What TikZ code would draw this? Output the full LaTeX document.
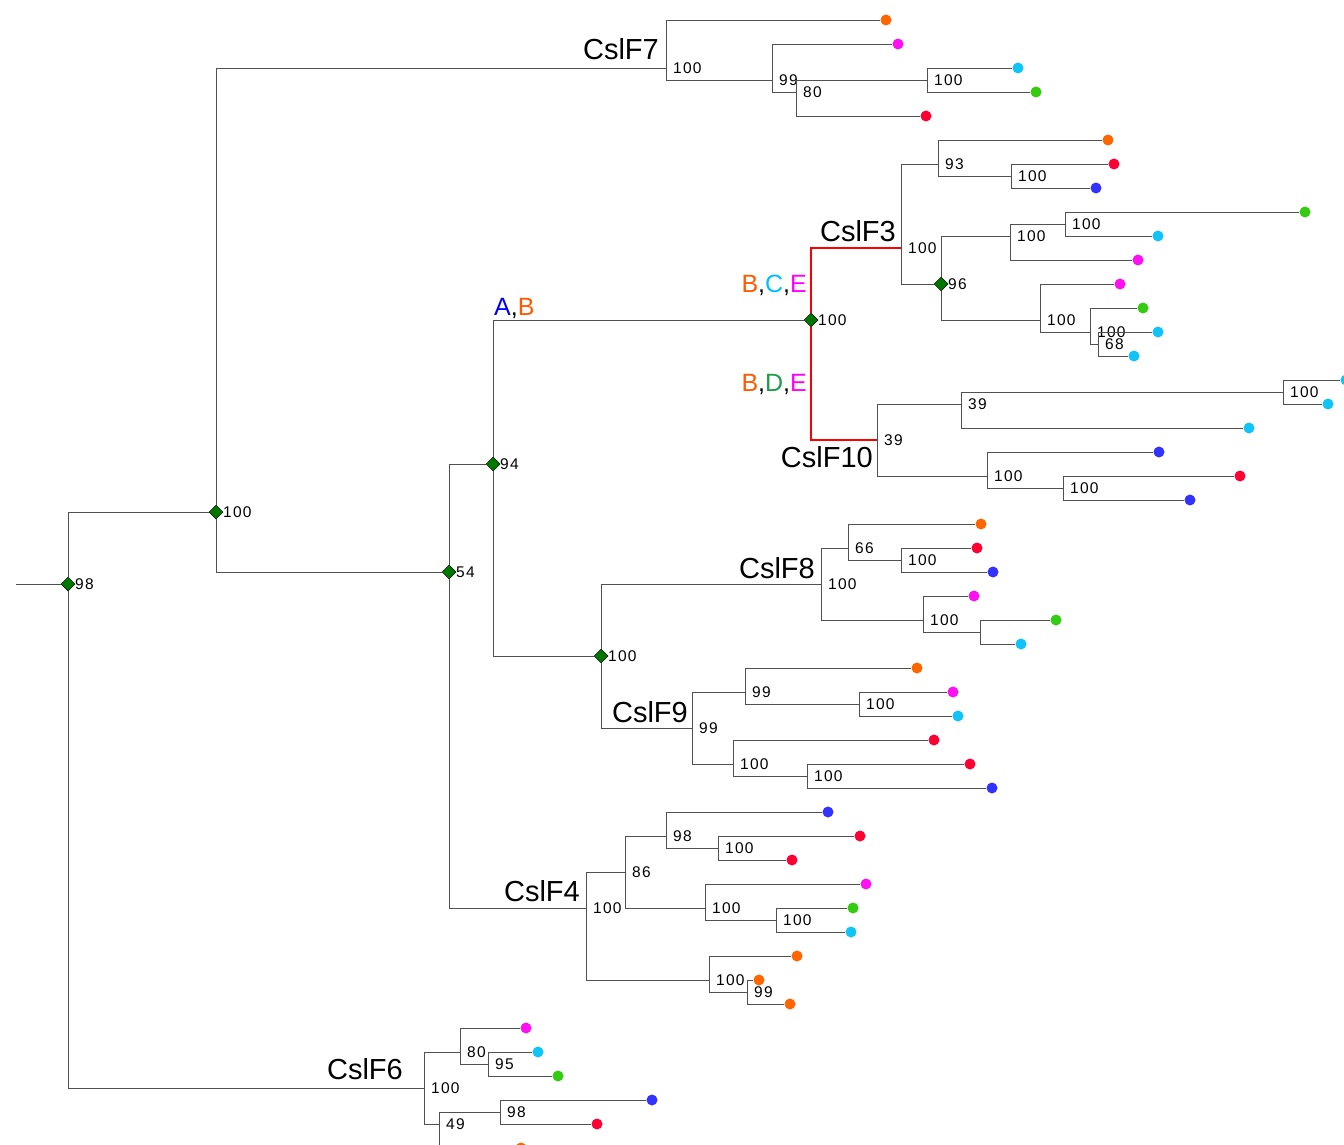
\documentclass[tikz,border=0pt]{standalone}
\usepackage{fontspec}
\setmainfont{Liberation Sans}
\newfontfamily\numfont[LetterSpace=8]{Liberation Sans}
\usetikzlibrary{shapes.geometric}
\definecolor{linegray}{HTML}{505050}
\definecolor{orng}{HTML}{FF6600}
\definecolor{mag}{HTML}{FF10F0}
\definecolor{cyn}{HTML}{10C4F8}
\definecolor{grn}{HTML}{33CC11}
\definecolor{rd}{HTML}{FF0033}
\definecolor{blu}{HTML}{3333FF}
\definecolor{diagreen}{HTML}{007800}
\definecolor{cA}{HTML}{0000FF}
\definecolor{cB}{HTML}{FF5A00}
\definecolor{cC}{HTML}{00BFFF}
\definecolor{cD}{HTML}{1E9E4A}
\definecolor{cE}{HTML}{FF00FF}
\newcommand\inode[4]{\coordinate (#1) at (#2,#3); \node[bs] (#1-l) at ([xshift=7pt]#1) {#4};}
\newcommand\dnode[4]{\node[dia] (#1) at (#2,#3) {}; \node[bs] (#1-l) at ([xshift=7pt]#1) {#4};}
\newcommand\lf[4]{\node[leaf=#4] (#1) at (#2,#3) {};}
\begin{document}
\begin{tikzpicture}[x=1pt,y=-1pt,
  br/.style={draw=linegray, line width=0.9pt},
  redbr/.style={draw=red, line width=2.4pt},
  leaf/.style={circle, fill=#1, inner sep=0pt, minimum size=11pt},
  dia/.style={diamond, draw=black, line width=0.5pt, fill=diagreen, inner sep=0pt, minimum size=14pt},
  bs/.style={font=\numfont\fontsize{15.5}{18}\selectfont, inner sep=0pt, anchor=west},
  clade/.style={font=\fontsize{29}{34}\selectfont, inner sep=0pt, anchor=base east},
  evt/.style={font=\fontsize{25}{30}\selectfont, inner sep=0pt}
]
\path[use as bounding box] (0,0) rectangle (1344,1145);

% ---- leaves
\lf{L1}{886}{20}{orng}
\lf{L2}{898}{44}{mag}
\lf{L3}{1018}{68}{cyn}
\lf{L4}{1036}{92}{grn}
\lf{L5}{926}{116}{rd}
\lf{L6}{1108}{140}{orng}
\lf{L7}{1114}{164}{rd}
\lf{L8}{1096}{188}{blu}
\lf{L9}{1305}{212}{grn}
\lf{L10}{1158}{236}{cyn}
\lf{L11}{1138}{260}{mag}
\lf{L12}{1120}{284}{mag}
\lf{L13}{1143}{308}{grn}
\lf{L14}{1158}{332}{cyn}
\lf{L15}{1134}{356}{cyn}
\lf{L16}{1346}{380}{cyn}
\lf{L17}{1328}{404}{cyn}
\lf{L18}{1249}{428}{cyn}
\lf{L19}{1159}{452}{blu}
\lf{L20}{1240}{476}{rd}
\lf{L21}{1190}{500}{blu}
\lf{L22}{981}{524}{orng}
\lf{L23}{977}{548}{rd}
\lf{L24}{993}{572}{blu}
\lf{L25}{974}{596}{mag}
\lf{L26}{1056}{620}{grn}
\lf{L27}{1021}{644}{cyn}
\lf{L28}{917}{668}{orng}
\lf{L29}{953}{692}{mag}
\lf{L30}{958}{716}{cyn}
\lf{L31}{934}{740}{rd}
\lf{L32}{970}{764}{rd}
\lf{L33}{992}{788}{blu}
\lf{L34}{828}{812}{blu}
\lf{L35}{860}{836}{rd}
\lf{L36}{792}{860}{rd}
\lf{L37}{866}{884}{mag}
\lf{L38}{853}{908}{grn}
\lf{L39}{851}{932}{cyn}
\lf{L40}{797}{956}{orng}
\lf{L41}{759}{980}{orng}
\lf{L42}{790}{1004}{orng}
\lf{L43}{526}{1028}{mag}
\lf{L44}{538}{1052}{cyn}
\lf{L45}{558}{1076}{grn}
\lf{L46}{652}{1100}{blu}
\lf{L47}{597}{1124}{rd}
\lf{L48}{521}{1148}{orng}

% ---- internal nodes
\coordinate (r0) at (16,584);
\dnode{r}{68}{584}{98}
\dnode{a}{216}{512}{100}
\dnode{b}{449}{572}{54}
\dnode{c}{493}{464}{94}
\dnode{d}{811}{320}{100}
\dnode{e}{601}{656}{100}
\inode{n7a}{666}{68}{100}
\inode{n7b}{772}{80}{99}
\inode{n7c}{796}{92}{80}
\inode{n7d}{927}{80}{100}
\inode{f3}{901}{248}{100}
\inode{g1}{938}{164}{93}
\inode{g3}{1011}{176}{100}
\dnode{g2}{941}{284}{96}
\inode{g4}{1010}{236}{100}
\inode{g6}{1065}{224}{100}
\inode{g5}{1040}{320}{100}
\inode{g7}{1090}{332}{100}
\inode{g8}{1098}{344}{68}
\inode{f10}{877}{440}{39}
\inode{h1}{961}{404}{39}
\inode{h3}{1283}{392}{100}
\inode{h2}{987}{476}{100}
\inode{h4}{1063}{488}{100}
\inode{f8}{821}{584}{100}
\inode{i1}{848}{548}{66}
\inode{i3}{901}{560}{100}
\inode{i2}{923}{620}{100}
\coordinate (i4) at (980,632);
\inode{f9}{692}{728}{99}
\inode{j1}{745}{692}{99}
\inode{j3}{859}{704}{100}
\inode{j2}{733}{764}{100}
\inode{j4}{807}{776}{100}
\inode{f4}{586}{908}{100}
\inode{k1}{625}{872}{86}
\inode{k3}{666}{836}{98}
\inode{k5}{718}{848}{100}
\inode{k4}{705}{908}{100}
\inode{k6}{776}{920}{100}
\inode{k2}{709}{980}{100}
\inode{k7}{747}{992}{99}
\inode{f6}{424}{1088}{100}
\inode{m1}{460}{1052}{80}
\inode{m4}{488}{1064}{95}
\inode{m2}{439}{1124}{49}
\inode{m3}{500}{1112}{98}

% ---- branches
\draw[br] (r0) -- (r);
\draw[br] (r) |- (a) (r) |- (f6);
\draw[br] (a) |- (n7a) (a) |- (b);
\draw[br] (n7a) |- (L1) (n7a) |- (n7b);
\draw[br] (n7b) |- (L2) (n7b) |- (n7c);
\draw[br] (n7c) |- (n7d) (n7c) |- (L5);
\draw[br] (n7d) |- (L3) (n7d) |- (L4);
\draw[br] (b) |- (c) (b) |- (f4);
\draw[br] (c) |- (d) (c) |- (e);
\draw[redbr] (d) |- (f3) (d) |- (f10);
\draw[br] (f3) |- (g1) (f3) |- (g2);
\draw[br] (g1) |- (L6) (g1) |- (g3);
\draw[br] (g3) |- (L7) (g3) |- (L8);
\draw[br] (g2) |- (g4) (g2) |- (g5);
\draw[br] (g4) |- (g6) (g4) |- (L11);
\draw[br] (g6) |- (L9) (g6) |- (L10);
\draw[br] (g5) |- (L12) (g5) |- (g7);
\draw[br] (g7) |- (L13) (g7) |- (g8);
\draw[br] (g8) |- (L14) (g8) |- (L15);
\draw[br] (f10) |- (h1) (f10) |- (h2);
\draw[br] (h1) |- (h3) (h1) |- (L18);
\draw[br] (h3) |- (L16) (h3) |- (L17);
\draw[br] (h2) |- (L19) (h2) |- (h4);
\draw[br] (h4) |- (L20) (h4) |- (L21);
\draw[br] (e) |- (f8) (e) |- (f9);
\draw[br] (f8) |- (i1) (f8) |- (i2);
\draw[br] (i1) |- (L22) (i1) |- (i3);
\draw[br] (i3) |- (L23) (i3) |- (L24);
\draw[br] (i2) |- (L25) (i2) |- (i4);
\draw[br] (i4) |- (L26) (i4) |- (L27);
\draw[br] (f9) |- (j1) (f9) |- (j2);
\draw[br] (j1) |- (L28) (j1) |- (j3);
\draw[br] (j3) |- (L29) (j3) |- (L30);
\draw[br] (j2) |- (L31) (j2) |- (j4);
\draw[br] (j4) |- (L32) (j4) |- (L33);
\draw[br] (f4) |- (k1) (f4) |- (k2);
\draw[br] (k1) |- (k3) (k1) |- (k4);
\draw[br] (k3) |- (L34) (k3) |- (k5);
\draw[br] (k5) |- (L35) (k5) |- (L36);
\draw[br] (k4) |- (L37) (k4) |- (k6);
\draw[br] (k6) |- (L38) (k6) |- (L39);
\draw[br] (k2) |- (L40) (k2) |- (k7);
\draw[br] (k7) |- (L41) (k7) |- (L42);
\draw[br] (f6) |- (m1) (f6) |- (m2);
\draw[br] (m1) |- (L43) (m1) |- (m4);
\draw[br] (m4) |- (L44) (m4) |- (L45);
\draw[br] (m2) |- (m3) (m2) |- (L48);
\draw[br] (m3) |- (L46) (m3) |- (L47);

% ---- clade labels
\node[clade] (tF7) at (659,60) {CslF7};
\node[clade] (tF3) at (896,241) {CslF3};
\node[clade] (tF10) at (873,467) {CslF10};
\node[clade] (tF8) at (815,578) {CslF8};
\node[clade] (tF9) at (688,722) {CslF9};
\node[clade] (tF4) at (580,901) {CslF4};
\node[clade] (tF6) at (403,1079) {CslF6};

% ---- event labels
\node[evt, anchor=base west] (eAB) at (494,315) {\textcolor{cA}{A},\textcolor{cB}{B}};
\node[evt, anchor=base east] (eBCE) at (807,292) {\textcolor{cB}{B},\textcolor{cC}{C},\textcolor{cE}{E}};
\node[evt, anchor=base east] (eBDE) at (807,391) {\textcolor{cB}{B},\textcolor{cD}{D},\textcolor{cE}{E}};
\end{tikzpicture}
\end{document}
